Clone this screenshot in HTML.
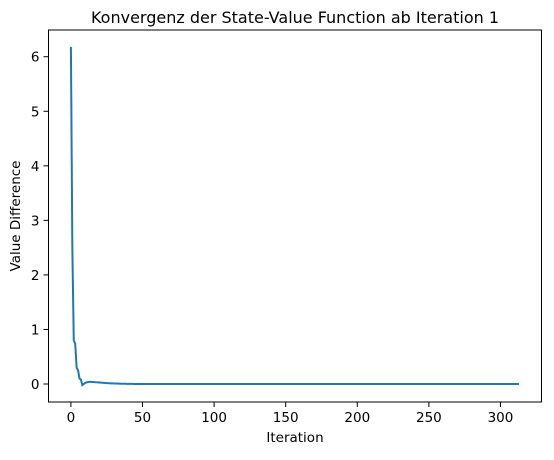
<!DOCTYPE html>
<html><head><meta charset="utf-8"><style>
body{margin:0;background:#fff;font-family:"Liberation Sans","DejaVu Sans",sans-serif}
svg text{font-family:"DejaVu Sans","Liberation Sans",sans-serif;fill:#000}
</style></head><body>
<svg id="c" width="554" height="455"></svg>
<script>
const head = [6.18,2.5,0.8,0.74,0.3,0.25,0.1,0.08,-0.02,0.0,0.02,0.03,0.035,0.038,0.038,0.037,0.035,0.033,0.031,0.029,0.027,0.025,0.023,0.021,0.019,0.017,0.015,0.014,0.012,0.011,0.01,0.009,0.008,0.007,0.006,0.005,0.005,0.004,0.004,0.003,0.003,0.002,0.002,0.002,0.001,0.001,0.001,0.001,0.001,0.0];
const tail = Array(264).fill(0);
const values = head.concat(tail);
const xTicks = [0,50,100,150,200,250,300];
const yTicks = [0,1,2,3,4,5,6];
const L=48.5,R=541.5,T=30,B=402;
const n=values.length-1;
const xm=n*0.05, ymin=Math.min(...values), ymax=Math.max(...values), ym=(ymax-ymin)*0.05;
const X=v=>L+(v-(-xm))/(n+2*xm)*(R-L);
const Y=v=>B-(v-(ymin-ym))/((ymax-ymin)+2*ym)*(B-T);
const svg=document.getElementById('c');const NS='http://www.w3.org/2000/svg';
function mk(t,a,p){const e=document.createElementNS(NS,t);for(const k in a)e.setAttribute(k,a[k]);(p||svg).appendChild(e);return e;}
let d=values.map((v,i)=>(i?'L':'M')+X(i).toFixed(2)+','+Y(v).toFixed(2)).join('');
const line=mk('path',{d,fill:'none',stroke:'#1f77b4','stroke-width':2});


const frame=mk('rect',{x:L,y:T,width:R-L,height:B-T,fill:'none',stroke:'#000','stroke-width':1});


xTicks.forEach(t=>{const x=X(t);mk('line',{x1:x,x2:x,y1:B,y2:B+5,stroke:'#000','stroke-width':1});
const tx=mk('text',{x,y:B+20,'text-anchor':'middle','font-size':13.5});tx.textContent=t;

});
yTicks.forEach(t=>{const y=Y(t);mk('line',{x1:L-5,x2:L,y1:y,y2:y,stroke:'#000','stroke-width':1});
const tx=mk('text',{x:L-9,y:y+5,'text-anchor':'end','font-size':13.5});tx.textContent=t;

});
const ti=mk('text',{x:(L+R)/2,y:T-7,'text-anchor':'middle','font-size':16});ti.textContent='Konvergenz der State-Value Function ab Iteration 1';


const xl=mk('text',{x:(L+R)/2,y:442,'text-anchor':'middle','font-size':13.5});xl.textContent='Iteration';


const yl=mk('text',{x:0,y:0,'text-anchor':'middle','font-size':13.5,transform:`translate(20,${(T+B)/2}) rotate(-90)`});yl.textContent='Value Difference';


</script>
</body></html>
